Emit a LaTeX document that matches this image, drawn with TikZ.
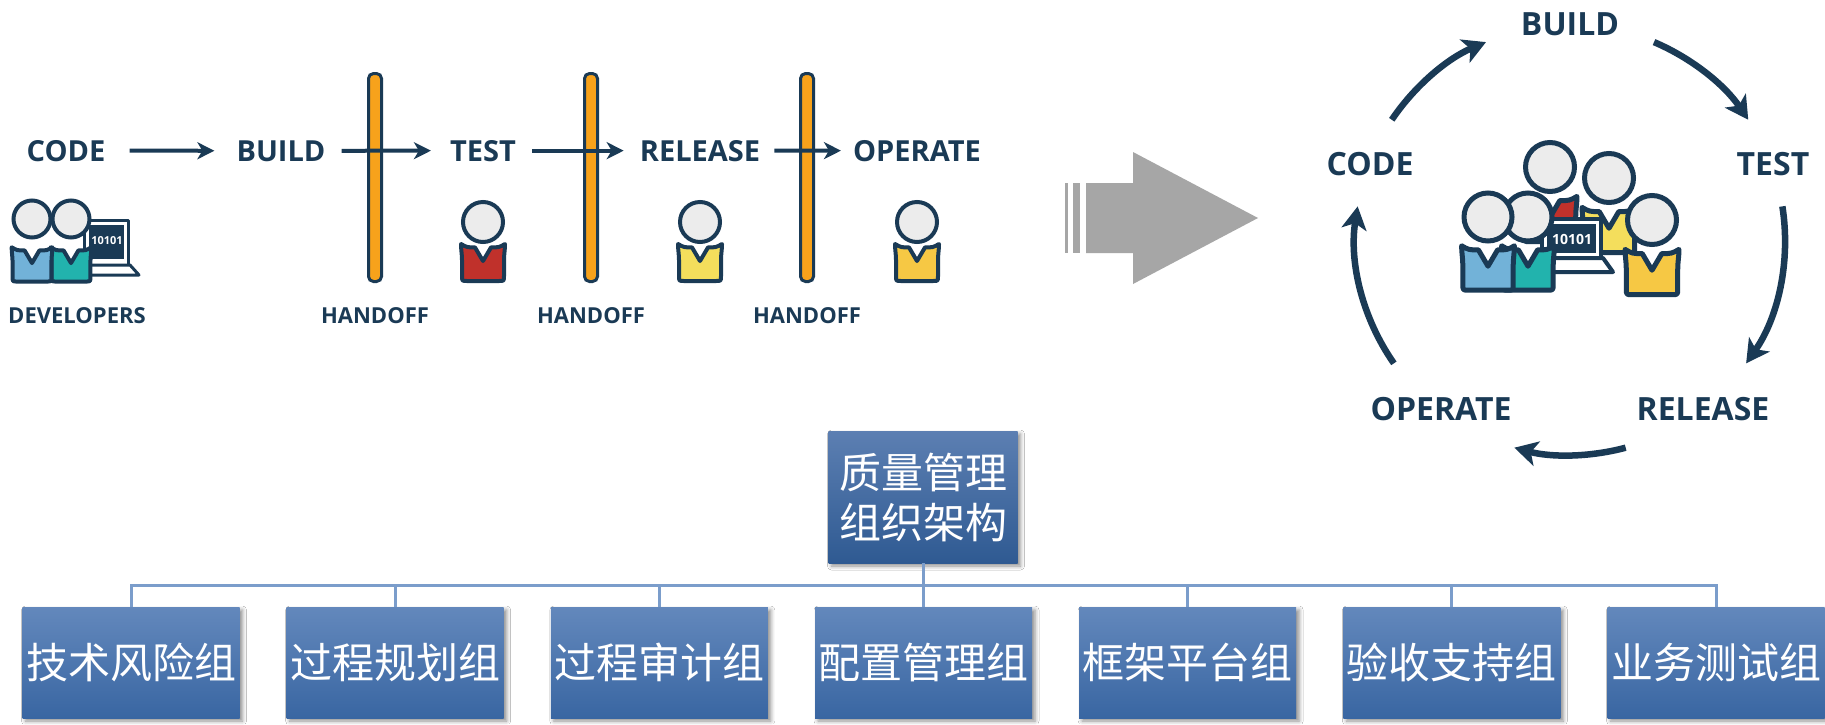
\documentclass[tikz,border=0pt]{standalone}
\usepackage{fontspec}
\newfontfamily\osans{Open Sans}
\newfontfamily\cjk{Noto Sans CJK SC}
\usetikzlibrary{arrows.meta,calc,shadows,shadows.blur}

\definecolor{navy}{HTML}{1A3A55}
\definecolor{headgrey}{HTML}{ECECEC}
\definecolor{barorange}{HTML}{F7A21B}
\definecolor{pblue}{HTML}{72B2D8}
\definecolor{pteal}{HTML}{22B3AD}
\definecolor{pred}{HTML}{C0312B}
\definecolor{pyellow}{HTML}{F4DE5C}
\definecolor{pgold}{HTML}{F6C844}
\definecolor{arrowgrey}{HTML}{A6A6A6}
\definecolor{boxtop}{HTML}{6388BC}
\definecolor{boxbot}{HTML}{3966A2}
\definecolor{headtop}{HTML}{5C7FB2}
\definecolor{headbot}{HTML}{2F5A92}
\definecolor{orgline}{HTML}{7B9DCB}

\tikzset{
  % a person: grey head above a coloured body with a small V collar
  pics/person/.style n args={2}{code={
    \begin{scope}[shift={(0,#2)}]
      \path[draw=navy, fill=#1, line join=round]
        (-1.1,1.1) .. controls (-0.8,1.27) .. (-0.4,1.27) -- (0,1.95) -- (0.4,1.27)
        .. controls (0.8,1.27) .. (1.1,1.1)
        .. controls (1.1,1.4) and (1.05,1.6) .. (1.05,1.9) -- (1.05,2.7)
        .. controls (1.05,2.95) .. (0.8,2.95) -- (-0.8,2.95)
        .. controls (-1.05,2.95) .. (-1.05,2.7) -- (-1.05,1.9)
        .. controls (-1.05,1.6) and (-1.1,1.4) .. cycle;
    \end{scope}
    \path[draw=navy, fill=headgrey] (0,0) circle[radius=1];
  }},
  flowlabel/.style={font=\osans\bfseries\fontsize{29}{34}\selectfont, text=navy, inner sep=0pt, anchor=base},
  cyclabel/.style={font=\osans\bfseries\fontsize{32}{38}\selectfont, text=navy, inner sep=0pt, anchor=base},
  smalllabel/.style={font=\osans\bfseries\fontsize{22}{26}\selectfont, text=navy, inner sep=0pt, anchor=base},
  bits/.style={font=\osans\bfseries, text=white, inner sep=0pt},
  flowarrow/.style={draw=navy, line width=4pt, -{Stealth[length=17pt,width=17pt,inset=5pt]}},
  cycarrow/.style={draw=navy, line width=6.5pt, -{Stealth[length=23pt,width=25pt,inset=6pt]}},
  handoffbar/.style={draw=navy, line width=3pt, fill=barorange, rounded corners=5pt,
    minimum width=13pt, minimum height=208pt, inner sep=0pt},
  lidframe/.style={draw=navy, line width=3pt, fill=white, line join=round},
  groupbox/.style={top color=boxtop, bottom color=boxbot, text=white,
    font=\cjk\fontsize{42}{50}\selectfont, inner sep=0pt,
    minimum width=217pt, minimum height=111pt,
    blur shadow={shadow xshift=3pt, shadow yshift=-3pt, shadow blur radius=4pt, shadow opacity=45}},
  headbox/.style={groupbox, top color=headtop, bottom color=headbot,
    minimum width=189pt, minimum height=132pt, align=center},
  orgconnector/.style={draw=orgline, line width=3pt},
}

\begin{document}
\begin{tikzpicture}[x=1pt, y=-1pt]
\useasboundingbox (0,0) rectangle (1825,724);
\fill[white] (0,0) rectangle (1825,724);

% ---------- sequential pipeline ----------
\node[flowlabel] (fcode)    at (66,161)  {CODE};
\node[flowlabel] (fbuild)   at (281,161) {BUILD};
\node[flowlabel] (ftest)    at (483,161) {TEST};
\node[flowlabel] (frelease) at (700,161) {RELEASE};
\node[flowlabel] (foperate) at (917,161) {OPERATE};

\node[handoffbar] (bar1) at (375,177.5) {};
\node[handoffbar] (bar2) at (591,177.5) {};
\node[handoffbar] (bar3) at (807,177.5) {};

\draw[flowarrow, shorten <=24pt, shorten >=22pt] (fcode.east) -- (fbuild.west);
\draw[flowarrow, shorten <=16pt, shorten >=19pt] (fbuild.east) -- (ftest.west);
\draw[flowarrow, shorten <=16pt, shorten >=16pt] (ftest.east) -- (frelease.west);
\draw[flowarrow, shorten <=14pt, shorten >=12pt] (frelease.east) -- (foperate.west);

\node[smalllabel] (h1) at (375,323) {HANDOFF};
\node[smalllabel] (h2) at (591,323) {HANDOFF};
\node[smalllabel] (h3) at (807,323) {HANDOFF};

% developers: laptop behind two people
\path[lidframe] (84,220) rectangle (128,265);
\path[fill=navy] (88.5,224.5) rectangle (123.5,259);
\node[bits, font=\osans\bfseries\fontsize{11}{13}\selectfont] (devbits) at (107,241) {10101};
\path[lidframe] (84,265) -- (130,265) -- (139,275) -- (84,275) -- cycle;
\pic[scale=18.5, line width=4pt] (devb) at (71,219) {person={pteal}{0.43}};
\pic[scale=18.5, line width=4pt] (deva) at (32,219) {person={pblue}{0.43}};
\node[smalllabel] (devs) at (77,323) {DEVELOPERS};

\pic[scale=20, line width=4pt] (ptest)    at (483,222) {person={pred}{0}};
\pic[scale=20, line width=4pt] (prelease) at (700,222) {person={pyellow}{0}};
\pic[scale=20, line width=4pt] (poperate) at (917,222) {person={pgold}{0}};

% ---------- transition arrow ----------
\fill[arrowgrey] (1065,183) rectangle (1067.5,253);
\fill[arrowgrey] (1073,183) rectangle (1080,253);
\fill[arrowgrey] (1086,183) -- (1133,183) -- (1133,152) -- (1258,218)
  -- (1133,284) -- (1133,253) -- (1086,253) -- cycle;

% ---------- continuous cycle ----------
\coordinate (cyc) at (1570,240);
\node[cyclabel] (cbuild)   at (1570,35)  {BUILD};
\node[cyclabel] (ccode)    at (1370,175) {CODE};
\node[cyclabel] (ctest)    at (1773,175) {TEST};
\node[cyclabel] (coperate) at (1441,420) {OPERATE};
\node[cyclabel] (crelease) at (1703,420) {RELEASE};

\coordinate (a1) at ($(cyc)+(-146:215)$);
\coordinate (a2) at ($(cyc)+(-67:215)$);
\coordinate (a3) at ($(cyc)+(-9:215)$);
\coordinate (a4) at ($(cyc)+(75:215)$);
\coordinate (a5) at ($(cyc)+(145:215)$);
\draw[cycarrow] (a1) arc[start angle=-146, end angle=-113, radius=215];
\draw[cycarrow] (a2) arc[start angle=-67, end angle=-34, radius=215];
\draw[cycarrow] (a3) arc[start angle=-9, end angle=35, radius=215];
\draw[cycarrow] (a4) arc[start angle=75, end angle=105, radius=215];
\draw[cycarrow] (a5) arc[start angle=145, end angle=189, radius=215];

% team in the middle of the cycle
\pic[scale=24.5, line width=5pt] (tred)  at (1550,167) {person={pred}{0.1}};
\pic[scale=24.5, line width=5pt] (tyel)  at (1609,178) {person={pyellow}{0.1}};
\path[lidframe, line width=4pt] (1542,219) rectangle (1601,258);
\path[fill=navy] (1547,224) rectangle (1596,253);
\node[bits, font=\osans\bfseries\fontsize{14}{16}\selectfont] (teambits) at (1572,239) {10101};
\path[lidframe, line width=4pt] (1540,258) -- (1603,258) -- (1613,272) -- (1540,272) -- cycle;
\pic[scale=24.5, line width=5pt] (tgold) at (1652,220) {person={pgold}{0.1}};
\pic[scale=24,   line width=5pt] (tteal) at (1528,217) {person={pteal}{0.1}};
\pic[scale=24,   line width=5pt] (tblue) at (1488,217) {person={pblue}{0.1}};

% ---------- organisation chart ----------
\node[headbox] (top) at (923,497) {质量管理\\组织架构};
\coordinate (bus) at (923,585);
\foreach \i/\t in {0/技术风险组,1/过程规划组,2/过程审计组,3/配置管理组,4/框架平台组,5/验收支持组,6/业务测试组}{
  \node[groupbox] (g\i) at ({131+264.17*\i},662.5) {\t};
}
\foreach \i in {0,...,6}{
  \draw[orgconnector] (top.south) -- (top.south |- bus) -| (g\i.north);
}
\end{tikzpicture}
\end{document}
